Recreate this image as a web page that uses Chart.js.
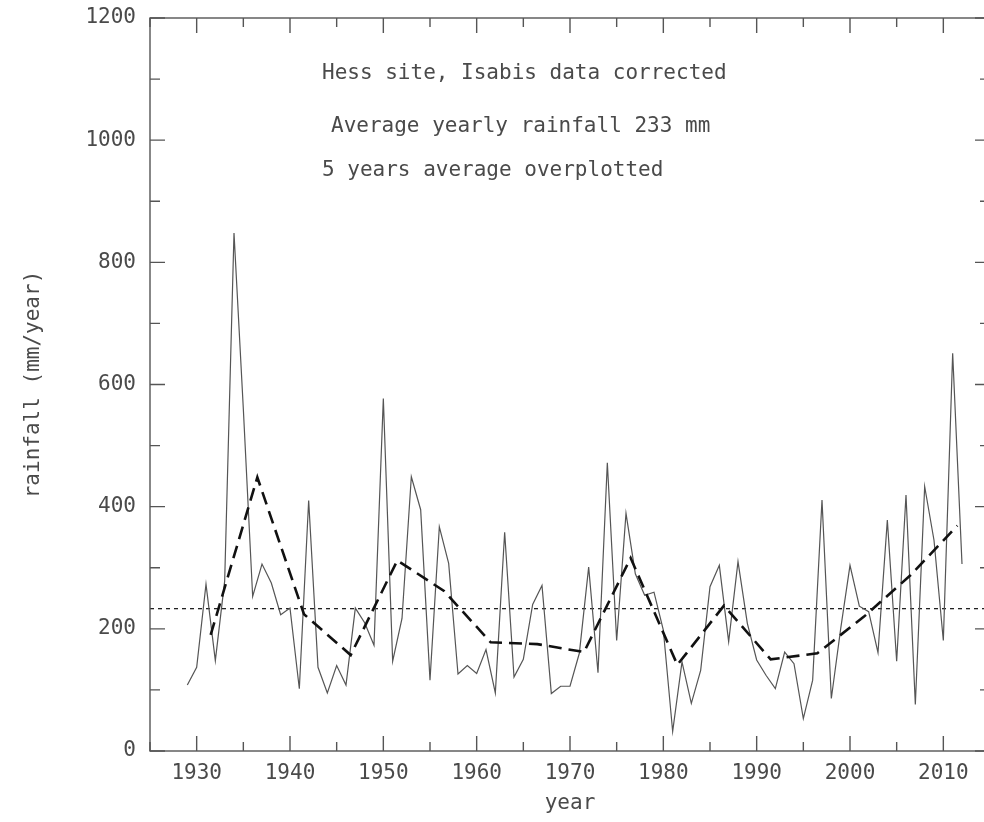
<!DOCTYPE html>
<html>
<head>
<meta charset="utf-8">
<title>Hess site rainfall</title>
<script src="https://cdn.jsdelivr.net/npm/chart.js@4.4.1/dist/chart.umd.min.js"></script>
<style>
  html, body { margin: 0; padding: 0; background: #fff; overflow: hidden; }
  #wrap { width: 1000px; height: 822px; position: relative; }
</style>
</head>
<body>
<div id="wrap"><canvas id="c" width="1000" height="822"></canvas></div>
<script>
// Yearly rainfall at the Hess site (Isabis record, corrected), mm/year
const years = [
  1929, 1930, 1931, 1932, 1933, 1934, 1935, 1936, 1937, 1938,
  1939, 1940, 1941, 1942, 1943, 1944, 1945, 1946, 1947, 1948,
  1949, 1950, 1951, 1952, 1953, 1954, 1955, 1956, 1957, 1958,
  1959, 1960, 1961, 1962, 1963, 1964, 1965, 1966, 1967, 1968,
  1969, 1970, 1971, 1972, 1973, 1974, 1975, 1976, 1977, 1978,
  1979, 1980, 1981, 1982, 1983, 1984, 1985, 1986, 1987, 1988,
  1989, 1990, 1991, 1992, 1993, 1994, 1995, 1996, 1997, 1998,
  1999, 2000, 2001, 2002, 2003, 2004, 2005, 2006, 2007, 2008,
  2009, 2010, 2011, 2012
];
const rainfall = [
  108, 137, 273, 148, 278, 848, 560, 253, 306, 275,
  223, 234, 102, 410, 137,  95, 140, 108, 234, 210,
  173, 577, 147, 217, 449, 395, 116, 367, 307, 126,
  140, 127, 166,  95, 358, 121, 150, 240, 271,  94,
  106, 106, 160, 301, 128, 472, 181, 389, 290, 255,
  260, 198,  32, 146,  78, 132, 269, 304, 179, 310,
  209, 149, 124, 102, 162, 143,  53, 116, 411,  86,
  200, 304, 237, 228, 161, 378, 147, 419,  76, 433,
  345, 181, 651, 306
];

// Five-year block averages, plotted at the centre of each block
const avgYears = [
  1931.5, 1936.5, 1941.5, 1946.5, 1951.5, 1956.5, 1961.5, 1966.5, 1971.5,
  1976.5, 1981.5, 1986.5, 1991.5, 1996.5, 2001.5, 2006.5, 2011.5
];
const avgRain = [
  190, 448, 224, 157, 312, 262, 178, 175, 162,
  316, 141, 238, 150, 160, 220, 288, 369
];

// Long-term mean
const meanRain = 233;
const yearRange = [1925, 2015];

const annotationLines = [
  "Hess site, Isabis data corrected",
  "Average yearly rainfall 233 mm",
  "5 years average overplotted"
];

const FONT = "'DejaVu Sans Mono', 'Liberation Mono', monospace";
const INK = '#4a4a4a';
const FRAME = '#555';

const toXY = (xs, ys) => xs.map((x, i) => ({ x: x, y: ys[i] }));

// Frame with inward tick marks on all four sides, plus the text block
const framePlugin = {
  id: 'frame',
  afterDatasetsDraw(chart) {
    const { ctx, chartArea: a, scales: { x, y } } = chart;
    ctx.save();
    ctx.strokeStyle = FRAME;
    ctx.lineWidth = 1.4;
    ctx.strokeRect(a.left, a.top, a.right - a.left, a.bottom - a.top);
    ctx.beginPath();
    x.ticks.forEach(t => {
      const px = x.getPixelForValue(t.value);
      const len = t.value % 10 === 0 ? 15 : 9;
      ctx.moveTo(px, a.bottom); ctx.lineTo(px, a.bottom - len);
      ctx.moveTo(px, a.top); ctx.lineTo(px, a.top + len);
    });
    y.ticks.forEach(t => {
      const py = y.getPixelForValue(t.value);
      const len = t.value % 200 === 0 ? 15 : 10;
      ctx.moveTo(a.left, py); ctx.lineTo(a.left + len, py);
      ctx.moveTo(a.right, py); ctx.lineTo(a.right - len, py);
    });
    ctx.stroke();

    ctx.fillStyle = INK;
    ctx.font = '21px ' + FONT;
    ctx.textBaseline = 'middle';
    ctx.textAlign = 'left';
    ctx.fillText(annotationLines[0], 322, 74);
    ctx.fillText(annotationLines[1], 331, 127);
    ctx.fillText(annotationLines[2], 322, 171);
    ctx.restore();
  }
};

new Chart(document.getElementById('c'), {
  type: 'line',
  data: {
    datasets: [
      {
        label: 'rainfall',
        data: toXY(years, rainfall),
        borderColor: '#555',
        borderWidth: 1.2,
        pointRadius: 0,
        tension: 0,
        order: 2
      },
      {
        label: '5 years average',
        data: toXY(avgYears, avgRain),
        borderColor: '#111',
        borderWidth: 2.6,
        borderDash: [13, 7],
        pointRadius: 0,
        tension: 0,
        order: 1
      },
      {
        label: 'mean',
        data: toXY(yearRange, [meanRain, meanRain]),
        borderColor: '#111',
        borderWidth: 1.2,
        borderDash: [4, 4],
        pointRadius: 0,
        order: 3
      }
    ]
  },
  options: {
    responsive: false,
    animation: false,
    devicePixelRatio: 1,
    layout: { padding: { top: 18, right: 10, left: 0, bottom: 0 } },
    plugins: { legend: { display: false }, tooltip: { enabled: false }, title: { display: false } },
    scales: {
      x: {
        type: 'linear',
        min: yearRange[0],
        max: yearRange[1],
        grid: { display: false, drawTicks: false },
        border: { display: false },
        ticks: {
          stepSize: 5,
          autoSkip: false,
          maxRotation: 0,
          padding: 10,
          color: INK,
          font: { family: FONT, size: 21 },
          callback: v => (v % 10 === 0 ? String(v) : '')
        },
        title: {
          display: true,
          text: 'year',
          color: INK,
          font: { family: FONT, size: 21 },
          padding: { top: 0, bottom: 6 }
        },
        afterFit: s => { s.height = 71; s.paddingLeft = 0; s.paddingRight = 0; }
      },
      y: {
        min: 0,
        max: 1200,
        grid: { display: false, drawTicks: false },
        border: { display: false },
        ticks: {
          stepSize: 100,
          autoSkip: false,
          padding: 14,
          color: INK,
          font: { family: FONT, size: 21 },
          callback: v => (v % 200 === 0 ? String(v) : '')
        },
        title: {
          display: true,
          text: 'rainfall (mm/year)',
          color: INK,
          font: { family: FONT, size: 21 },
          padding: { top: 21, bottom: 0 }
        },
        afterFit: s => { s.width = 150; s.paddingTop = 0; s.paddingBottom = 0; }
      }
    }
  },
  plugins: [framePlugin]
});
</script>
</body>
</html>
